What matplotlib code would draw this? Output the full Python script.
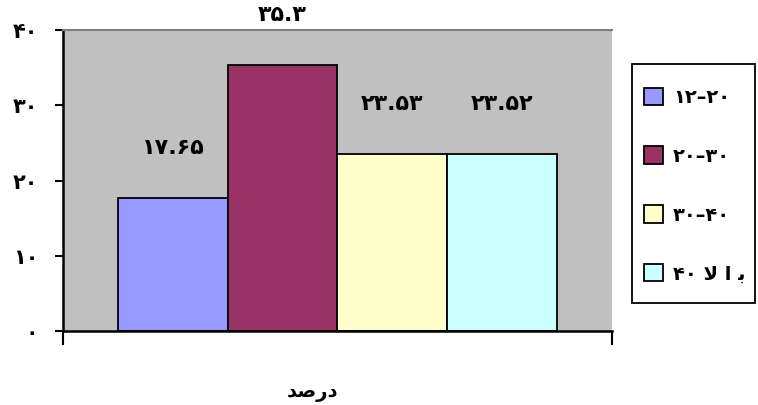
import matplotlib
matplotlib.use('Agg')
import matplotlib.pyplot as plt
from matplotlib.patches import Patch, Rectangle

# data
groups = ['۱۲–۲۰', '۲۰–۳۰', '۳۰–۴۰', '۴۰ \uFEFB \u0627 \uFE91']
values = [17.65, 35.3, 23.53, 23.52]
value_labels = ['۱۷.۶۵', '۳۵.۳', '۲۳.۵۳', '۲۳.۵۲']
colors = ['#9999FF', '#993366', '#FFFFCC', '#CCFFFF']
yticks = [0, 10, 20, 30, 40]
ytick_labels = ['۰', '۱۰', '۲۰', '۳۰', '۴۰']
xlabel = '\uFEAA\uFEBB\u0631\u062F'  # درصد, visual order

plt.rcParams['font.family'] = ['DejaVu Sans']
plt.rcParams['font.weight'] = 'bold'

W, H = 758, 405
fig = plt.figure(figsize=(W / 100, H / 100), dpi=100)
ax = fig.add_axes([0.0831, 0.1827, 0.7243, 0.7432])
ax.set_facecolor('#C0C0C0')

width = 0.2
xs = [-0.3, -0.1, 0.1, 0.3]
for x, v, c, lab in zip(xs, values, colors, value_labels):
    ax.bar(x, v, width=width, color=c, edgecolor='black', linewidth=1.3)
    ax.annotate(lab, (x, v), xytext=(0, 36), textcoords='offset points',
                ha='center', va='center', fontsize=16, fontweight='bold')

ax.set_xlim(-0.5, 0.5)
ax.set_ylim(0, 40)
ax.set_yticks(yticks)
ax.set_yticklabels(ytick_labels, fontsize=15, fontweight='bold')
ax.set_xticks([-0.5, 0.5])
ax.set_xticklabels(['', ''])
ax.tick_params(axis='y', length=6, width=1.5, pad=12)
ax.tick_params(axis='x', length=10, width=1.5)

for s in ['left', 'bottom']:
    ax.spines[s].set_linewidth(1.8)
    ax.spines[s].set_color('black')
ax.spines['top'].set_color('#808080')
ax.spines['top'].set_linewidth(1.5)
ax.spines['right'].set_visible(False)

fig.text(312 / W, 1 - 392 / H, xlabel, ha='center', va='center',
         fontsize=14, fontweight='bold')

# legend box drawn separately so the entries sit where the reference has them
fig.patches.append(Rectangle((632 / W, 1 - 303 / H), 123 / W, 239 / H,
                             transform=fig.transFigure, facecolor='white',
                             edgecolor='black', linewidth=1.3))
handles = [Patch(facecolor=c, edgecolor='black', linewidth=1.3) for c in colors]
leg = fig.legend(handles, groups, loc='center left',
                 bbox_to_anchor=(644 / W, 1 - 185.5 / H),
                 frameon=False, prop={'weight': 'bold', 'size': 14},
                 handlelength=1.0, handleheight=1.0, handletextpad=0.5,
                 labelspacing=2.03, borderpad=0, borderaxespad=0)

plt.savefig('out.png', dpi=100)
